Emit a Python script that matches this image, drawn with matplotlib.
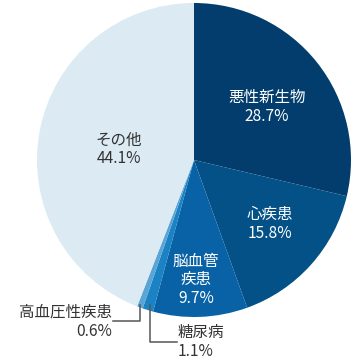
import matplotlib
matplotlib.use('Agg')
from matplotlib import pyplot as plt

plt.rcParams['font.family'] = ['Noto Sans CJK JP', 'DejaVu Sans']

labels = ['悪性新生物', '心疾患', '脳血管\n疾患', '糖尿病', '高血圧性疾患', 'その他']
values = [28.7, 15.8, 9.7, 1.1, 0.6, 44.1]
colors = ['#023d6d', '#035187', '#0962a5', '#1b82c4', '#5ba5d6', '#dceaf4']

fig = plt.figure(figsize=(3.6, 3.6), dpi=100)
ax = fig.add_axes([0, 0, 1, 1])
ax.pie(values, colors=colors, startangle=90, counterclock=False, radius=1.0,
       wedgeprops=dict(linewidth=0))

fs = 11.2
# labels inside the pie
ax.text(0.465, 0.338, f'{labels[0]}\n{values[0]}%', color='white', fontsize=fs,
        ha='center', va='center', linespacing=1.15)
ax.text(0.484, -0.408, f'{labels[1]}\n{values[1]}%', color='white', fontsize=fs,
        ha='center', va='center', linespacing=1.15)
ax.text(0.013, -0.764, f'{labels[2]}\n{values[2]}%', color='white', fontsize=fs,
        ha='center', va='center', linespacing=1.1)
ax.text(-0.478, 0.067, f'{labels[5]}\n{values[5]}%', color='#333333', fontsize=fs,
        ha='center', va='center', linespacing=1.15)

# labels outside with leader lines
ax.plot([-0.344, -0.344, -0.516], [-0.924, -1.025, -1.025], color='#555555', lw=1.1,
        clip_on=False)
ax.text(-0.522, -1.029, f'{labels[4]}\n{values[4]}%', color='#333333', fontsize=fs,
        ha='right', va='center', multialignment='right', linespacing=1.15)

ax.plot([-0.280, -0.280, -0.108], [-0.924, -1.159, -1.159], color='#555555', lw=1.1,
        clip_on=False)
ax.text(-0.102, -1.159, f'{labels[3]}\n{values[3]}%', color='#333333', fontsize=fs,
        ha='left', va='center', multialignment='left', linespacing=1.15)

ax.set_xlim(-194 / 157, (360 - 194) / 157)
ax.set_ylim(-(360 - 160) / 157, 160 / 157)
ax.axis('off')

fig.savefig('out.png', dpi=100)
